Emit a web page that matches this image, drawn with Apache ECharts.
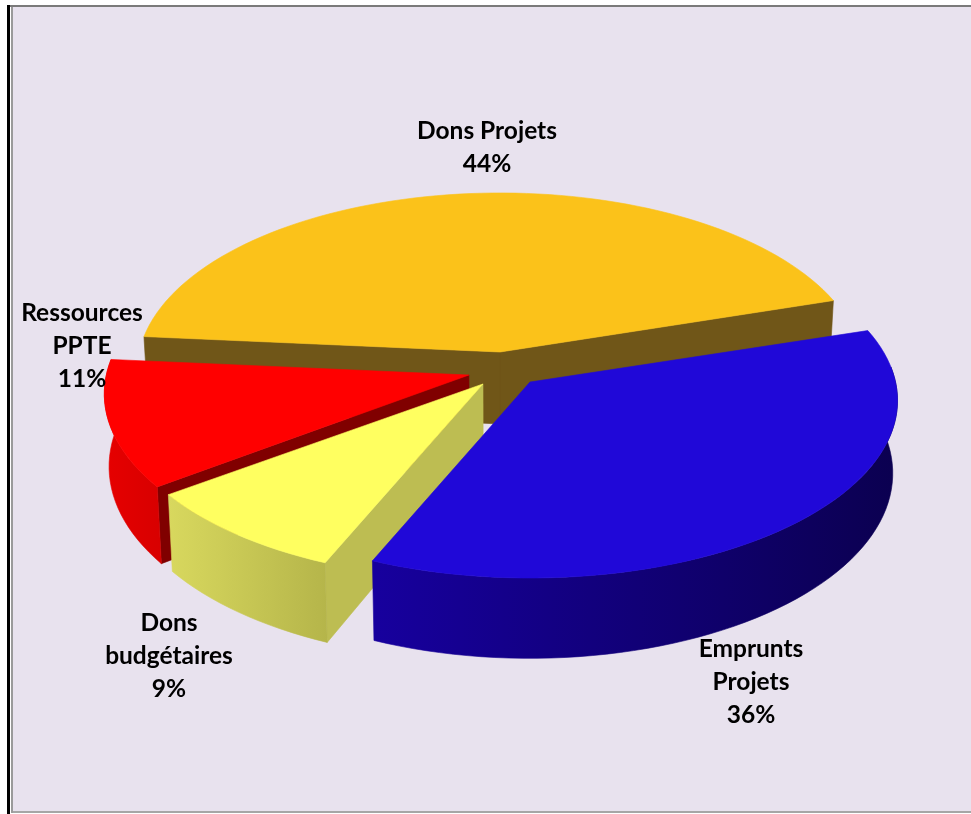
<!DOCTYPE html>
<html><head><meta charset="utf-8">
<style>html,body{margin:0;padding:0;background:#fff}#c{width:971px;height:814px}</style>
<script src="https://cdn.jsdelivr.net/npm/echarts@6/dist/echarts.min.js"></script>
</head><body><div id="c"></div>
<script>
// ---- data (estimated shares; labels show them rounded) ----
const categories = ['Dons Projets', 'Ressources\nPPTE', 'Dons\nbudgétaires', 'Emprunts\nProjets'];
const shares = [43.7, 11.49, 8.55, 36.26];

// ---- look and layout ----
const topColors  = ['#fbc21a', '#ff0000', '#ffff60', '#2008d8'];
const faceColors = ['#705618', '#800000', '#bdbd52', '#0e0060'];
const rimColors  = [['#705618','#705618'], ['#e60000','#d80000'], ['#d8d85e','#b5b54a'], ['#17009e','#0b0050']];
const explode    = [[0,0], [-0.084,-0.131], [-0.046,-0.182], [0.081,-0.171]]; // disc radii
const radii      = [[0.975,1], [0.98,1.01], [0.99,1], [0.988,1]];
const labelAt    = [[487,148], [82,346.5], [169,656], [751,682.5]];
const startAngle = 17.6, persp = 0.104, depth = 0.41, taper = 0.012;
const W = 971, H = 814, cx = 500, cy = 352, sx = 370, sy = 175.6;
const total = shares.reduce((a, b) => a + b, 0);
const rad = d => d * Math.PI / 180;

const chart = echarts.init(document.getElementById('c'), null, {renderer:'canvas'});

function renderItem(params, api) {
  const i = params.dataIndex;
  let a1 = startAngle;
  for (let k = 0; k < i; k++) a1 += shares[k] / total * 360;
  const a2 = a1 + api.value(1) / total * 360;
  const [ex, ey] = explode[i], [Rx, Ry] = radii[i];
  const P = (deg, r, lower) => {
    const c = Math.cos(rad(deg)) * r * Rx, s = Math.sin(rad(deg)) * r * Ry, f = 1 + persp * s;
    const p = api.coord([ex + c / f, ey + s / f - (lower ? depth / f : 0)]);
    if (lower) p[0] = api.coord([0, 0])[0] + (p[0] - api.coord([0, 0])[0]) * (1 - taper);
    return p;
  };
  const arc = (from, to, lower) => {
    const n = Math.max(2, Math.ceil(Math.abs(to - from) / 2)), out = [];
    for (let j = 0; j <= n; j++) out.push(P(from + (to - from) * j / n, 1, lower));
    return out;
  };
  const poly = (points, fill) => ({type:'polygon', shape:{points}, silent:true,
    style:{fill, stroke:fill, lineWidth:0.6, lineJoin:'round'}});
  const children = [];
  // cut faces that look toward the viewer
  [[a1, -90], [a2, 90]].forEach(([a, d]) => {
    if (Math.sin(rad(a + d)) < 0) {
      children.push(poly([P(0,0,false), P(a,1,false), P(a,1,true), P(0,0,true)], faceColors[i]));
    }
  });
  // outer rim, front half only
  for (const shift of [0, 360]) {
    const from = Math.max(a1, 175 + shift), to = Math.min(a2, 365 + shift);
    if (to > from) {
      const grad = new echarts.graphic.LinearGradient(0, 0, 1, 0,
        [{offset:0, color:rimColors[i][0]}, {offset:1, color:rimColors[i][1]}]);
      children.push(poly(arc(from, to, false).concat(arc(to, from, true)), grad));
    }
  }
  // top surface
  children.push(poly([P(0,0,false)].concat(arc(a1, a2, false)), topColors[i]));
  // label
  children.push({type:'text', z2:100, silent:true, style:{
    text: categories[api.value(0)] + '\n' + Math.round(api.value(1)) + '%',
    x: labelAt[i][0], y: labelAt[i][1], align:'center', verticalAlign:'middle',
    font:'bold 24.5px Lato', lineHeight:33, fill:'#000'}});
  return {type:'group', children};
}

chart.setOption({
  animation:false,
  backgroundColor:'#ffffff',
  grid:{left:0, top:0, width:W, height:H},
  xAxis:{type:'value', min:-cx/sx, max:(W-cx)/sx, show:false},
  yAxis:{type:'value', min:-(H-cy)/sy, max:cy/sy, show:false},
  graphic:[
    {type:'rect', z:-1, shape:{x:13,y:7,width:W-13,height:805}, style:{fill:'#e8e2ee'}},
    {type:'rect', z:-1, shape:{x:11,y:5,width:2,height:808}, style:{fill:'#9a9a9a'}},
    {type:'rect', z:-1, shape:{x:7,y:5,width:W-7,height:2}, style:{fill:'#7a7a7a'}},
    {type:'rect', z:-1, shape:{x:7,y:5,width:3,height:809}, style:{fill:'#000000'}},
    {type:'rect', z:-1, shape:{x:13,y:811,width:W-13,height:2}, style:{fill:'#a6a6a6'}}
  ],
  series:[{
    type:'custom', coordinateSystem:'cartesian2d', renderItem, clip:false,
    data: shares.map((v, i) => [i, v]),
    encode:{x:0, y:1}
  }]
});
</script></body></html>
